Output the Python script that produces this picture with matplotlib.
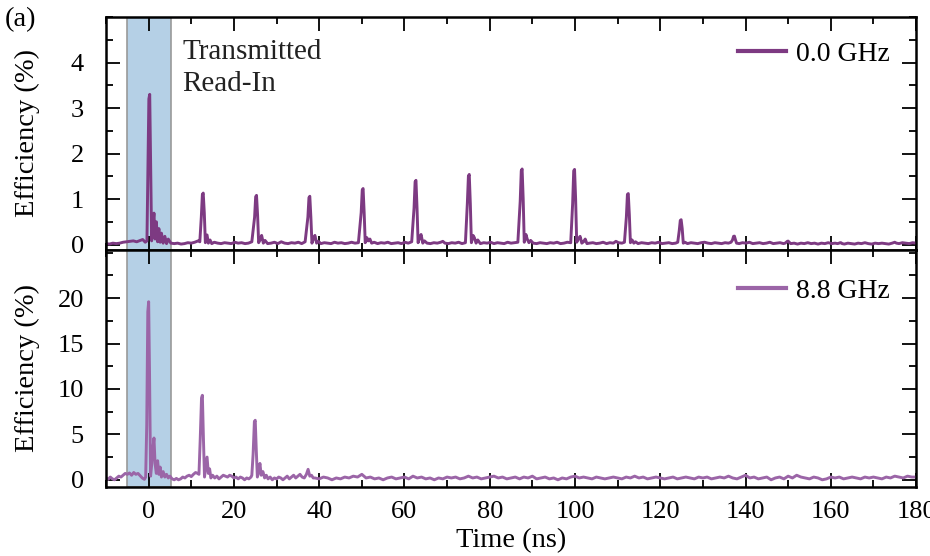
import matplotlib
matplotlib.use("Agg")
import matplotlib.pyplot as plt
from matplotlib.ticker import MultipleLocator

plt.rcParams["font.family"] = ["Liberation Serif", "DejaVu Serif"]

# 0.0 GHz trace (time in ns, efficiency in %)
t_top = [
    -10.0, -9.2, -8.4, -7.6, -6.8, -6.0, -5.2, -4.4, -3.6, -2.8, -2.0, -1.4, -0.8, -0.4,
    -0.15, 0.05, 0.25, 0.5, 0.7, 1.0, 1.25, 1.5, 1.8, 2.1, 2.4, 2.7, 3.0, 3.4, 3.8, 4.2, 4.6,
    5.2, 6.0, 6.8, 7.6, 8.4, 9.2, 10.0, 10.8, 11.6, 12.0,
    12.35, 12.6, 12.8, 13.05, 13.3, 13.7, 14.0, 14.4, 14.8, 15.4, 16.2, 17.0, 17.8, 18.6,
    19.4, 20.2, 21.0, 21.8, 22.6, 23.4, 24.2,
    24.85, 25.1, 25.3, 25.55, 25.8, 26.2, 26.5, 26.9, 27.3, 27.9, 28.7, 29.5, 30.3, 31.1,
    31.9, 32.7, 33.5, 34.3, 35.1, 35.9, 36.7,
    37.35, 37.6, 37.8, 38.05, 38.3, 38.7, 39.0, 39.4, 39.8, 40.4, 41.2, 42.0, 42.8, 43.6,
    44.4, 45.2, 46.0, 46.8, 47.6, 48.4, 49.2,
    49.85, 50.1, 50.3, 50.55, 50.8, 51.2, 51.5, 51.9, 52.3, 52.9, 53.7, 54.5, 55.3, 56.1,
    56.9, 57.7, 58.5, 59.3, 60.1, 60.9, 61.7,
    62.25, 62.5, 62.7, 62.95, 63.2, 63.6, 63.9, 64.3, 64.7, 65.3, 66.1, 66.9, 67.7, 68.5,
    69.0, 69.5, 70.3, 71.1, 71.9, 72.7, 73.5, 74.3,
    74.75, 75.0, 75.2, 75.45, 75.7, 76.1, 76.4, 76.8, 77.2, 77.8, 78.6, 79.4, 80.2, 81.0,
    81.8, 82.6, 83.4, 84.2, 85.0, 85.8, 86.6,
    87.15, 87.4, 87.6, 87.85, 88.1, 88.5, 88.8, 89.2, 89.6, 90.2, 91.0, 91.8, 92.6, 93.4,
    94.2, 95.0, 95.8, 96.6, 97.4, 98.2, 99.0,
    99.45, 99.7, 99.9, 100.15, 100.4, 100.8, 101.2, 101.6, 102.0, 102.4, 102.8, 103.4,
    104.2, 105.0, 105.8, 106.6, 107.4, 108.2, 109.0, 109.6, 110.2, 111.0, 111.6,
    112.05, 112.3, 112.5, 112.75, 113.0, 113.4, 113.8, 114.2, 114.8, 115.6, 116.4, 117.2,
    118.0, 118.8, 119.6, 120.4, 121.2, 122.0, 122.8, 123.6, 124.1,
    124.45, 124.7, 124.9, 125.15, 125.4, 125.8, 126.4, 127.2, 128.0, 128.8, 129.6, 130.4,
    131.2, 132.0, 132.8, 133.6, 134.4, 135.2, 136.0, 136.6,
    136.95, 137.2, 137.4, 137.65, 137.9, 138.5, 139.3, 140.1, 140.9, 141.7, 142.5, 143.3,
    144.1, 144.9, 145.7, 146.5, 147.3, 148.1, 148.9, 149.3,
    149.55, 149.8, 150.0, 150.25, 150.6, 151.4, 152.2, 153.0, 153.8, 154.6, 155.4, 156.2,
    157.0, 157.8, 158.6, 159.4, 160.2, 161.0, 161.6,
    161.95, 162.2, 162.4, 162.65, 163.2, 164.0, 164.8, 165.6, 166.4, 167.2, 168.0, 168.8,
    169.6, 170.4, 171.2, 172.0, 172.8, 173.6, 174.4, 175.0, 175.4, 176.0, 176.8, 177.6,
    178.4, 179.2, 180.0,
]
eff_top = [
    0.02, 0.01, 0.03, 0.02, 0.03, 0.05, 0.06, 0.07, 0.08, 0.06, 0.09, 0.11, 0.05, 0.08,
    1.8, 3.2, 3.3, 1.6, 0.08, 0.45, 0.69, 0.12, 0.5, 0.06, 0.35, 0.05, 0.25, 0.03, 0.18, 0.02, 0.12,
    0.03, 0.02, 0.03, 0.01, 0.02, 0.04, 0.03, 0.05, 0.08, 0.06,
    0.6, 1.1, 1.13, 0.7, 0.04, 0.21, 0.03, 0.1, 0.02, 0.05, 0.03, 0.02, 0.04, 0.03,
    0.02, 0.05, 0.03, 0.04, 0.02, 0.03, 0.06,
    0.6, 1.05, 1.08, 0.65, 0.04, 0.12, 0.2, 0.03, 0.09, 0.02, 0.03, 0.05, 0.02, 0.06,
    0.03, 0.02, 0.04, 0.03, 0.05, 0.02, 0.06,
    0.6, 1.03, 1.06, 0.6, 0.03, 0.14, 0.2, 0.03, 0.07, 0.02, 0.04, 0.03, 0.02, 0.05,
    0.03, 0.04, 0.02, 0.03, 0.05, 0.03, 0.04,
    0.7, 1.2, 1.23, 0.7, 0.04, 0.15, 0.08, 0.12, 0.03, 0.05, 0.02, 0.04, 0.03, 0.05,
    0.02, 0.03, 0.04, 0.02, 0.05, 0.03, 0.06,
    0.8, 1.38, 1.41, 0.8, 0.04, 0.16, 0.22, 0.03, 0.08, 0.03, 0.02, 0.04, 0.03, 0.05,
    0.07, 0.03, 0.02, 0.04, 0.03, 0.05, 0.02, 0.04,
    0.9, 1.5, 1.54, 0.9, 0.04, 0.2, 0.15, 0.03, 0.1, 0.02, 0.04, 0.03, 0.05, 0.02,
    0.04, 0.03, 0.02, 0.05, 0.03, 0.04, 0.05,
    0.95, 1.62, 1.66, 1.0, 0.05, 0.22, 0.12, 0.04, 0.09, 0.03, 0.02, 0.04, 0.03, 0.02,
    0.04, 0.03, 0.05, 0.02, 0.03, 0.05, 0.04,
    0.9, 1.62, 1.65, 1.0, 0.05, 0.12, 0.18, 0.03, 0.06, 0.12, 0.02, 0.03,
    0.04, 0.02, 0.03, 0.05, 0.02, 0.04, 0.03, 0.07, 0.04, 0.03, 0.05,
    0.6, 1.1, 1.12, 0.65, 0.04, 0.1, 0.03, 0.06, 0.02, 0.04, 0.03, 0.02,
    0.04, 0.03, 0.05, 0.02, 0.03, 0.04, 0.02, 0.03, 0.05,
    0.3, 0.53, 0.545, 0.35, 0.03, 0.05, 0.02, 0.04, 0.03, 0.02, 0.04, 0.05,
    0.03, 0.02, 0.04, 0.03, 0.02, 0.04, 0.03, 0.05,
    0.1, 0.18, 0.185, 0.1, 0.03, 0.02, 0.04, 0.03, 0.05, 0.02, 0.03, 0.04,
    0.02, 0.03, 0.05, 0.02, 0.03, 0.04, 0.02, 0.03,
    0.05, 0.07, 0.075, 0.05, 0.02, 0.03, 0.01, 0.03, 0.02, 0.04, 0.02, 0.03,
    0.01, 0.03, 0.02, 0.04, 0.02, 0.03, 0.02,
    0.03, 0.04, 0.04, 0.02, 0.01, 0.03, 0.02, 0.01, 0.03, 0.02, 0.04, 0.02,
    0.01, 0.03, 0.02, 0.03, 0.02, 0.01, 0.03, 0.05, 0.03, 0.02, 0.04, 0.03,
    0.02, 0.04, 0.03,
]

# 8.8 GHz trace
t_bot = [
    -10.0, -9.5, -9.0, -8.5, -8.0, -7.5, -7.0, -6.5, -6.0, -5.5, -5.0, -4.5, -4.0, -3.5,
    -3.0, -2.5, -2.0, -1.5, -1.0, -0.7, -0.45, -0.2, 0.0, 0.2, 0.45, 0.7, 1.0, 1.25, 1.5,
    1.8, 2.1, 2.4, 2.7, 3.0, 3.4, 3.8, 4.2, 4.6, 5.0, 5.5, 6.0, 6.5, 7.0, 7.5, 8.0, 8.5,
    9.0, 9.5, 10.0, 10.5, 11.0, 11.5, 11.8,
    12.1, 12.4, 12.6, 12.85, 13.1, 13.4, 13.7, 14.0, 14.3, 14.6, 15.0, 15.5, 16.0, 16.5,
    17.0, 17.5, 18.0, 18.5, 19.0, 19.5, 20.0, 20.5, 21.0, 21.5, 22.0, 22.5, 23.0, 23.5,
    24.0, 24.2,
    24.5, 24.8, 25.0, 25.25, 25.5, 25.8, 26.1, 26.4, 26.8, 27.2, 27.6, 28.0, 28.5, 29.0,
    29.5, 30.0, 30.5, 31.0, 31.5, 32.0, 32.5, 33.0, 33.5, 34.0, 34.5, 35.0, 35.5, 36.0,
    36.5, 37.0, 37.4, 37.8, 38.2, 38.6,
    39, 40, 41, 42, 43, 44, 45, 46, 47, 48, 49, 50, 51, 52, 53, 54, 55, 56, 57, 58, 59,
    60, 61, 62, 63, 64, 65, 66, 67, 68, 69, 70, 71, 72, 73, 74, 75, 76, 77, 78, 79,
    80, 81, 82, 83, 84, 85, 86, 87, 88, 89, 90, 91, 92, 93, 94, 95, 96, 97, 98, 99,
    100, 101, 102, 103, 104, 105, 106, 107, 108, 109, 110, 111, 112, 113, 114, 115, 116,
    117, 118, 119, 120, 121, 122, 123, 124, 125, 126, 127, 128, 129, 130, 131, 132, 133,
    134, 135, 136, 137, 138, 139, 140, 141, 142, 143, 144, 145, 146, 147, 148, 149, 150,
    151, 152, 153, 154, 155, 156, 157, 158, 159, 160, 161, 162, 163, 164, 165, 166, 167,
    168, 169, 170, 171, 172, 173, 174, 175, 176, 177, 178, 179, 180,
]
eff_bot = [
    0.2, 0.05, 0.3, 0.1, 0.0, 0.2, 0.4, 0.3, 0.5, 0.7, 0.6, 0.75, 0.5, 0.8,
    0.6, 0.7, 0.45, 0.2, 0.05, 0.3, 6.0, 18.5, 19.6, 12.0, 0.4, 1.6, 3.5, 4.6, 1.8,
    0.7, 2.1, 0.6, 1.4, 0.3, 0.9, 0.3, 0.6, 0.2, 0.4, 0.1, 0.0, 0.15, 0.0, 0.1, 0.3, 0.2,
    0.4, 0.5, 0.35, 0.6, 0.8, 0.7, 0.6,
    4.5, 9.0, 9.3, 4.5, 0.3, 1.4, 2.5, 0.7, 1.2, 0.2, 0.5, 0.2, 0.4, 0.1,
    0.3, 0.5, 0.4, 0.3, 0.5, 0.4, 0.2, 0.3, 0.1, 0.3, 0.2, 0.0, 0.2, 0.1,
    0.3, 0.5,
    2.8, 6.4, 6.55, 3.2, 0.3, 0.9, 1.8, 0.5, 0.9, 0.2, 0.5, 0.1, 0.3, 0.0,
    0.2, 0.1, 0.3, 0.2, 0.0, 0.2, 0.4, 0.1, 0.3, 0.5, 0.2, 0.4, 0.6, 0.3,
    0.2, 0.6, 1.15, 0.4, 0.5, 0.2,
    0.2, 0.1, 0.3, 0.2, 0.0, 0.2, 0.1, 0.3, 0.2, 0.4, 0.3, 0.6, 0.2, 0.3, 0.1, 0.2, 0.0,
    0.2, 0.3, 0.1, 0.2,
    0.3, 0.1, 0.4, 0.2, 0.3, 0.1, 0.2, 0.0, 0.2, 0.1, 0.3, 0.2, 0.3, 0.1, 0.2, 0.4, 0.2,
    0.3, 0.1, 0.2,
    0.3, 0.4, 0.2, 0.3, 0.1, 0.2, 0.3, 0.1, 0.3, 0.2, 0.4, 0.1, 0.2, 0.3, 0.1, 0.2, 0.0,
    0.2, 0.1, 0.3,
    0.4, 0.2, 0.3, 0.2, 0.1, 0.3, 0.2, 0.1, 0.2, 0.3, 0.2, 0.1, 0.3, 0.2, 0.4, 0.2, 0.3,
    0.1, 0.2, 0.3, 0.2, 0.1, 0.2, 0.3, 0.1, 0.2, 0.3, 0.2, 0.1, 0.3, 0.2, 0.3, 0.1, 0.2,
    0.3, 0.2, 0.4, 0.2, 0.1, 0.3, 0.5, 0.2, 0.3, 0.1, 0.2, 0.3, 0.0, 0.2, 0.3, 0.1, 0.4,
    0.2, 0.5, 0.3, 0.2, 0.1, 0.3, 0.2, 0.0, 0.1, 0.3, 0.2, 0.3, 0.1, 0.2, 0.3, 0.2, 0.1,
    0.3, 0.2, 0.3, 0.2, 0.1, 0.3, 0.2, 0.4, 0.3, 0.2, 0.4, 0.3, 0.3,
]

labels = ["0.0 GHz", "8.8 GHz"]
colors = ["#7d3a82", "#9b65a7"]
read_in = (-5.0, 5.3)
yticks_top = [0, 1, 2, 3, 4]
yticks_bot = [0, 5, 10, 15, 20]

fig = plt.figure(figsize=(9.3, 5.56), dpi=100)
ax_top = fig.add_axes([0.114, 0.5504, 0.871, 0.4190])
ax_bot = fig.add_axes([0.114, 0.1245, 0.871, 0.4259], sharex=ax_top)

for ax, t, e, lab, c in [(ax_top, t_top, eff_top, labels[0], colors[0]),
                         (ax_bot, t_bot, eff_bot, labels[1], colors[1])]:
    ax.axvspan(*read_in, facecolor="#b5d0e6", edgecolor="#999999", lw=1.2, zorder=0)
    ax.plot(t, e, color=c, lw=2.1, label=lab, zorder=2)
    ax.set_ylabel("Efficiency (%)", fontsize=20.5)
    ax.tick_params(which="both", direction="in", top=True, right=True,
                   labelsize=19, width=1.3)
    ax.tick_params(which="major", length=10)
    ax.tick_params(which="minor", length=5)
    ax.tick_params(axis="x", which="major", pad=10)
    ax.tick_params(axis="y", which="major", pad=16)
    for s in ax.spines.values():
        s.set_linewidth(1.8)
    ax.xaxis.set_major_locator(MultipleLocator(20))
    ax.xaxis.set_minor_locator(MultipleLocator(10))
    ax.yaxis.set_label_coords(-0.082, 0.5)

ax_top.set_xlim(-10, 180)
ax_top.set_ylim(-0.12, 5.0)
ax_top.set_yticks(yticks_top)
ax_top.yaxis.set_minor_locator(MultipleLocator(0.5))
ax_top.tick_params(labelbottom=False)

ax_bot.set_ylim(-0.77, 25.3)
ax_bot.set_yticks(yticks_bot)
ax_bot.yaxis.set_minor_locator(MultipleLocator(2.5))
ax_bot.set_xlabel("Time (ns)", fontsize=20.5)

leg_kw = dict(loc="center right", frameon=False, fontsize=20, handlelength=1.73,
              handletextpad=0.35, borderpad=0, borderaxespad=0)
ax_top.legend(bbox_to_anchor=(0.967, 0.841), **leg_kw)
ax_bot.legend(bbox_to_anchor=(0.967, 0.827), **leg_kw)
for leg in [ax_top.get_legend(), ax_bot.get_legend()]:
    for h in leg.get_lines():
        h.set_linewidth(3)

fig.text(182 / 930, 1 - 68 / 556, "Transmitted\nRead-In", fontsize=21,
         va="center", ha="left", linespacing=1.3, color="#222222")
fig.text(0.005, 1 - 20 / 556, "(a)", fontsize=20.5, va="center", ha="left")

fig.savefig("out.png", dpi=100)
